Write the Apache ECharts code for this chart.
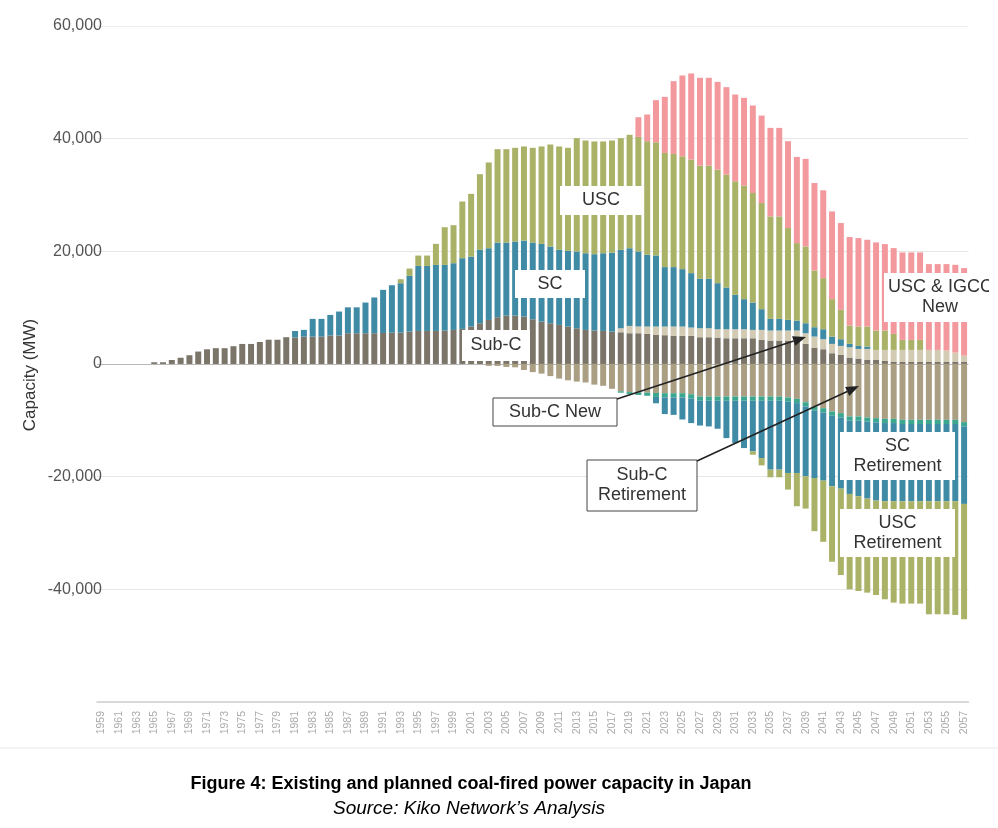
<!DOCTYPE html>
<html><head><meta charset="utf-8">
<script src="https://cdn.jsdelivr.net/npm/echarts@6/dist/echarts.min.js"></script>
<style>html,body{margin:0;padding:0;background:#fff}#c{width:998px;height:828px}</style>
</head><body><div id="c"></div>
<script>
// Categories: 1959 .. 2057
const years = [];
for (let y = 1959; y <= 2057; y++) years.push(String(y));

// Positive (existing / planned capacity, MW)
const subC = [
  0,0,0,0,0,0,300,300,700,1100,
  1550,2200,2600,2800,2800,3150,3550,3550,3900,4300,
  4300,4750,4700,4850,4850,4850,5050,5050,5450,5450,
  5450,5450,5500,5550,5560,5740,5860,5860,5860,5920,
  6040,6220,6630,7220,7810,8290,8580,8580,8410,7930,
  7520,7220,6930,6630,6330,6040,5920,5860,5740,5620,
  5450,5450,5330,5160,5100,4980,4980,4980,4740,4740,
  4680,4560,4560,4560,4560,4270,4150,4150,4150,4150,
  3560,2900,2610,1900,1600,1130,950,710,710,530,
  410,350,350,350,350,350,350,350,350
];
const subCNew = [
  0,0,0,0,0,0,0,0,0,0,
  0,0,0,0,0,0,0,0,0,0,
  0,0,0,0,0,0,0,0,0,0,
  0,0,0,0,0,0,0,0,0,0,
  0,0,0,0,0,0,0,0,0,0,
  0,0,0,0,0,0,0,0,0,710,
  1300,1200,1310,1480,1540,1660,1660,1480,1600,1600,
  1480,1600,1600,1600,1480,1770,1780,1780,1780,1780,
  1890,1960,1780,1660,1600,1830,1720,1960,1780,1960,
  2080,2140,2140,2140,2140,2140,2020,1660,1130
];
const sc = [
  0,0,0,0,0,0,0,0,0,0,
  0,0,0,0,0,0,0,0,0,0,
  0,0,1150,1200,3150,3150,3650,4250,4600,4600,
  5450,6350,7650,8420,8770,9890,11540,11540,11720,11660,
  11840,12550,12430,13030,12730,13260,12970,13150,13490,13620,
  13790,13620,13320,13440,13620,13610,13560,13790,14030,13920,
  13790,13320,12740,12620,10550,10550,10190,9660,8770,8770,
  8180,7410,6110,5340,4860,3680,2070,2070,1890,1770,
  1780,1660,1770,1300,1190,600,530,410,0,0,
  0,0,0,0,0,0,0,0,0
];
const usc = [
  0,0,0,0,0,0,0,0,0,0,
  0,0,0,0,0,0,0,0,0,0,
  0,0,0,0,0,0,0,0,0,0,
  0,0,0,0,710,1300,1840,1840,3730,6690,
  6750,10060,11130,13430,15220,16570,16570,16630,16700,16810,
  17290,18110,18350,18290,20130,20010,20010,19840,19890,19830,
  20130,20330,20150,20090,20260,20080,20030,20150,20090,20090,
  20150,20030,20150,20140,19440,18840,18190,18190,16300,13750,
  13630,10070,9070,6640,5210,3250,3440,3560,3440,3440,
  2840,1780,1780,1780,0,0,0,0,0
];
const uscIgccNew = [
  0,0,0,0,0,0,0,0,0,0,
  0,0,0,0,0,0,0,0,0,0,
  0,0,0,0,0,0,0,0,0,0,
  0,0,0,0,0,0,0,0,0,0,
  0,0,0,0,0,0,0,0,0,0,
  0,0,0,0,0,0,0,0,0,0,
  0,3490,4740,7470,9960,12920,14340,15290,15590,15590,
  15580,15530,15400,15590,15530,15530,15710,15710,15410,15290,
  15530,15530,15590,15580,15410,15710,15700,15400,15640,15340,
  15230,15520,15520,15520,15230,15230,15350,15590,15530
];

// Retirements (MW, drawn below zero)
const subCRet = [
  0,0,0,0,0,0,0,0,0,0,
  0,0,0,0,0,0,0,0,0,0,
  0,0,0,0,0,0,0,0,0,0,
  0,0,0,0,0,0,0,0,0,0,
  0,0,0,0,350,350,530,600,1070,1450,
  1720,2160,2600,2900,3130,3290,3670,3880,4410,4850,
  5000,5050,5100,5150,5190,5190,5190,5370,5780,5780,
  5780,5780,5780,5780,5780,5780,5780,5780,5950,6200,
  6790,7550,7850,8440,8730,9320,9320,9500,9620,9740,
  9740,9910,9910,9910,9910,9910,9910,9910,10330
];
const otherRet = [
  0,0,0,0,0,0,0,0,0,0,
  0,0,0,0,0,0,0,0,0,0,
  0,0,0,0,0,0,0,0,0,0,
  0,0,0,0,0,0,0,0,0,0,
  0,0,0,0,0,0,0,0,0,0,
  0,0,0,0,0,0,0,0,0,250,
  350,450,550,700,750,750,750,750,750,750,
  750,750,750,750,750,750,750,750,750,750,
  750,750,750,750,750,750,750,750,750,750,
  750,750,750,750,750,750,750,750,750
];
const scRet = [
  0,0,0,0,0,0,0,0,0,0,
  0,0,0,0,0,0,0,0,0,0,
  0,0,0,0,0,0,0,0,0,0,
  0,0,0,0,0,0,0,0,0,0,
  0,0,0,0,0,0,0,0,0,0,
  0,0,0,0,0,0,0,0,0,0,
  0,0,0,1130,2960,3100,3920,4380,4400,4560,
  4970,6630,7510,8400,8990,10170,12230,12230,12650,12400,
  12400,11940,12110,12520,12650,13000,13410,13650,13880,13880,
  13880,13710,13710,13710,13710,13710,13710,13710,13760
];
const uscRet = [
  0,0,0,0,0,0,0,0,0,0,
  0,0,0,0,0,0,0,0,0,0,
  0,0,0,0,0,0,0,0,0,0,
  0,0,0,0,0,0,0,0,0,0,
  0,0,0,0,0,0,0,0,0,0,
  0,0,0,0,0,0,0,0,0,0,
  0,0,0,0,0,0,0,0,0,0,
  0,0,0,0,590,1300,1360,1360,2950,5900,
  5730,9440,10860,13390,15340,16930,16820,16690,16760,17400,
  17990,18170,18170,18170,20060,20060,20060,20180,20470
];

const yTicks = [-60000, -40000, -20000, 0, 20000, 40000, 60000];

const FONT = 'Liberation Sans';
const C = {
  subC: '#7b7468', subCNew: '#d2cab2', sc: '#3f8ba5', usc: '#a9b266',
  neu: '#f3989d', subCRet: '#aa9f83', other: '#3ca68e'
};

function bar(name, data, color, neg) {
  return {
    name, type: 'bar', stack: 'all', stackStrategy: 'samesign',
    barCategoryGap: '32%',
    data: neg ? data.map(v => -v) : data,
    itemStyle: { color },
    emphasis: { disabled: true },
    animation: false
  };
}

const chart = echarts.init(document.getElementById('c'), null, { renderer: 'canvas' });

const grid = { left: 97, right: 29.5, top: 25.9, bottom: 126 };
const ANN = '18px "' + FONT + '"';

function box(x1, y1, x2, y2, lines, opts) {
  opts = opts || {};
  const els = [];
  els.push({
    type: 'rect', z: 100,
    shape: { x: x1, y: y1, width: x2 - x1, height: y2 - y1 },
    style: { fill: '#fff', stroke: opts.border ? '#444' : null, lineWidth: opts.border ? 1 : 0 }
  });
  const lh = 20;
  const cy = (y1 + y2) / 2 - (lines.length - 1) * lh / 2;
  lines.forEach((t, i) => {
    const al = (opts.aligns && opts.aligns[i]) || 'center';
    const x = (opts.xs && opts.xs[i] !== undefined) ? opts.xs[i] : (x1 + x2) / 2;
    els.push({
      type: 'text', z: 101,
      style: {
        text: t, x, y: cy + i * lh, align: al, verticalAlign: 'middle',
        font: ANN, fill: '#333'
      }
    });
  });
  return els;
}

function arrow(x1, y1, x2, y2) {
  const ang = Math.atan2(y2 - y1, x2 - x1);
  const L = 13, W = 5;
  const bx = x2 - L * Math.cos(ang), by = y2 - L * Math.sin(ang);
  const px = -Math.sin(ang) * W, py = Math.cos(ang) * W;
  return [
    { type: 'line', z: 102, shape: { x1, y1, x2: bx, y2: by }, style: { stroke: '#222', lineWidth: 1.6 } },
    { type: 'polygon', z: 102, shape: { points: [[x2, y2], [bx + px, by + py], [bx - px, by - py]] }, style: { fill: '#222' } }
  ];
}

const option = {
  animation: false,
  backgroundColor: '#fff',
  grid,
  xAxis: {
    type: 'category', data: years,
    axisTick: { show: false },
    axisLine: { show: true, onZero: false, lineStyle: { color: '#d0d0d0', width: 1.5 } },
    axisLabel: { interval: 1, rotate: 90, fontSize: 10.5, color: '#aaa', fontFamily: FONT, margin: 9 }
  },
  yAxis: {
    type: 'value', min: yTicks[0], max: yTicks[yTicks.length - 1], interval: 20000,
    axisLine: { show: false }, axisTick: { show: false },
    axisLabel: {
      fontSize: 16, color: '#555', fontFamily: FONT, margin: -5,
      formatter: v => (v === yTicks[0] ? '' : v.toLocaleString('en-US'))
    },
    splitLine: { lineStyle: { color: ['#ececec', '#e6e6e6', '#e6e6e6', '#b8b8b8', '#e6e6e6', '#e6e6e6', '#ececec'], width: 1 } }
  },
  series: [
    bar('Sub-C', subC, C.subC),
    bar('Sub-C New', subCNew, C.subCNew),
    bar('SC', sc, C.sc),
    bar('USC', usc, C.usc),
    bar('USC & IGCC New', uscIgccNew, C.neu),
    bar('Sub-C Retirement', subCRet, C.subCRet, true),
    bar('Other Retirement', otherRet, C.other, true),
    bar('SC Retirement', scRet, C.sc, true),
    bar('USC Retirement', uscRet, C.usc, true)
  ],
  graphic: [].concat(
    box(560, 186, 642, 215, ['USC']),
    box(515, 270, 585, 298, ['SC']),
    box(462, 330, 530, 361, ['Sub-C']),
    box(840, 432, 955, 480, ['SC', 'Retirement']),
    box(840, 509, 955, 557, ['USC', 'Retirement']),
    box(884, 273, 998, 322, ['USC & IGCC', 'New'], { xs: [888, 940], aligns: ['left', 'center'] }),
    arrow(617, 399, 806, 337),
    arrow(697, 461, 859, 386),
    box(493, 398, 617, 426, ['Sub-C New'], { border: true }),
    box(587, 460, 697, 511, ['Sub-C', 'Retirement'], { border: true }),
    [
      { type: 'rect', z: 120, shape: { x: 989, y: 0, width: 10, height: 747 }, style: { fill: '#fff' } },
      { type: 'line', z: 120, shape: { x1: 0, y1: 748, x2: 998, y2: 748 }, style: { stroke: '#e8e8e8', lineWidth: 1 } },
      { type: 'text', z: 120, rotation: Math.PI / 2, x: 30, y: 375,
        style: { text: 'Capacity (MW)', align: 'center', verticalAlign: 'middle', font: '17px "' + FONT + '"', fill: '#333' } },
      { type: 'text', z: 120, style: { text: 'Figure 4: Existing and planned coal-fired power capacity in Japan', x: 471, y: 784, align: 'center', verticalAlign: 'middle', font: 'bold 18px "' + FONT + '"', fill: '#000' } },
      { type: 'text', z: 120, style: { text: 'Source: Kiko Network\u2019s Analysis', x: 469, y: 809, align: 'center', verticalAlign: 'middle', font: 'italic 19px "' + FONT + '"', fill: '#000' } }
    ]
  )
};
chart.setOption(option);
</script>
</body></html>
